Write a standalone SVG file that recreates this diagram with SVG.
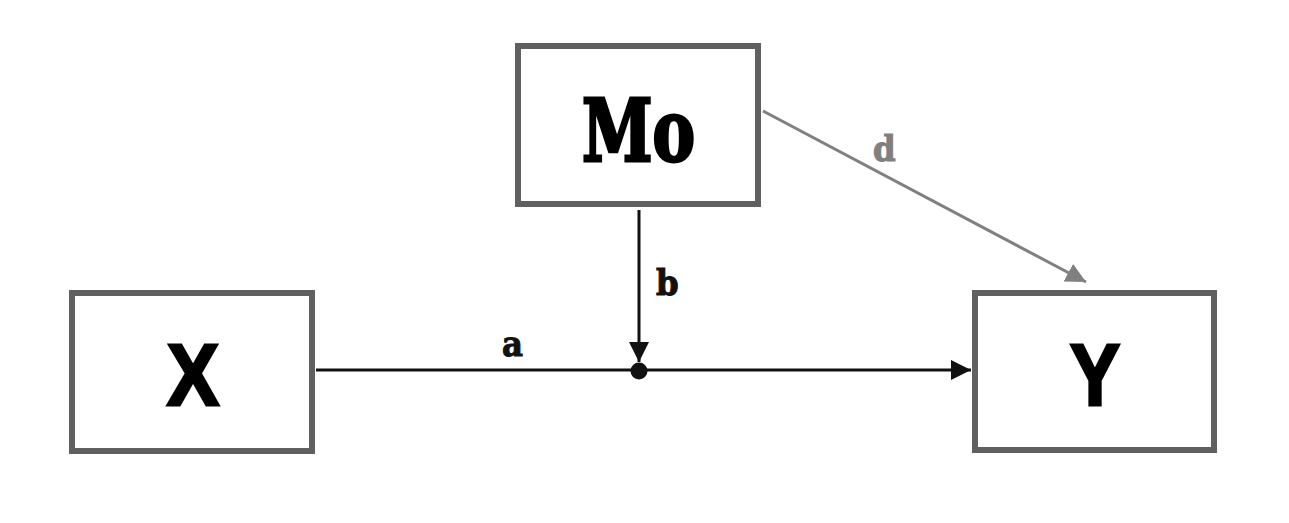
<svg xmlns="http://www.w3.org/2000/svg" width="1289" height="523" viewBox="0 0 1289 523">
<style>
.box{fill:#fff;stroke:#606060;stroke-width:6}
.ser{font-family:"DejaVu Serif","Liberation Serif",serif;font-weight:bold;font-stretch:condensed}
.sans{font-family:"Liberation Sans",Arial,sans-serif;font-weight:bold;stroke:#000;stroke-width:3;stroke-linejoin:miter}
.big{stroke:#000;stroke-width:3}
.lbl{stroke-width:1}
.blk{stroke:#111;stroke-width:3;fill:none}
.gry{stroke:#808080;stroke-width:3;fill:none}
</style>
<defs>
<marker id="ab" markerUnits="userSpaceOnUse" markerWidth="22" markerHeight="22" refX="20" refY="10" orient="auto" viewBox="0 0 22 22">
<path d="M0,0 L20,10 L0,20 z" fill="#111"/>
</marker>
<marker id="ag" markerUnits="userSpaceOnUse" markerWidth="22" markerHeight="22" refX="20" refY="10" orient="auto" viewBox="0 0 22 22">
<path d="M0,0 L20,10 L0,20 z" fill="#808080"/>
</marker>
</defs>
<rect width="1289" height="523" fill="#fff"/>
<g id="connectors">
<line class="blk" x1="316" y1="370" x2="971" y2="370" marker-end="url(#ab)"/>
<line class="blk" x1="639" y1="210" x2="639" y2="362" marker-end="url(#ab)"/>
<circle cx="639" cy="371" r="8.5" fill="#111"/>
<line class="gry" x1="763" y1="111" x2="1086" y2="282" marker-end="url(#ag)"/>
<text class="ser lbl" x="502" y="356" font-size="36" fill="#111" stroke="#111">a</text>
<text class="ser lbl" x="656" y="295" font-size="36" fill="#111" stroke="#111">b</text>
<text class="ser lbl" x="873" y="161" font-size="36" fill="#808080" stroke="#808080">d</text>
</g>
<g id="node-mo">
<rect class="box" x="518" y="46" width="240" height="158"/>
<text class="ser big" x="582" y="161" font-size="86" textLength="113" lengthAdjust="spacingAndGlyphs" fill="#000">Mo</text>
</g>
<g id="node-x">
<rect class="box" x="72" y="293" width="240" height="158"/>
<text class="sans" x="167" y="405" font-size="88" textLength="52" lengthAdjust="spacingAndGlyphs" fill="#000">X</text>
</g>
<g id="node-y">
<rect class="box" x="975" y="293" width="239" height="157"/>
<text class="sans" x="1070" y="405" font-size="88" textLength="50" lengthAdjust="spacingAndGlyphs" fill="#000">Y</text>
</g>
</svg>
